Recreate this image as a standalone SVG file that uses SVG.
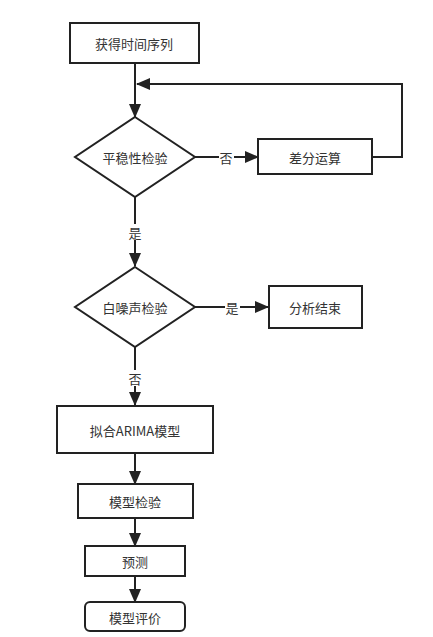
<svg xmlns="http://www.w3.org/2000/svg" width="433" height="637" viewBox="0 0 433 637">
<style>
.n{fill:#fff;stroke:#222;stroke-width:2}
.t{font-family:"Noto Sans CJK SC","Liberation Sans",sans-serif;font-size:13px;fill:#333;text-anchor:middle;dominant-baseline:central}
.c{fill:none;stroke:#222;stroke-width:2}
.lb{fill:#fff}
</style>
<defs>
<marker id="a" markerUnits="userSpaceOnUse" markerWidth="14" markerHeight="12" refX="13" refY="6" orient="auto">
<path d="M0,0 L14,6 L0,12 Z" fill="#222"/>
</marker>
</defs>
<rect width="433" height="637" fill="#fff"/>
<g id="connectors">
<path class="c" d="M135,63 V117" marker-end="url(#a)"/>
<path class="c" d="M372,157 H402 V84 H137" marker-end="url(#a)"/>
<path class="c" d="M195,157 H258" marker-end="url(#a)"/>
<path class="c" d="M135,197 V266" marker-end="url(#a)"/>
<path class="c" d="M195,307 H268" marker-end="url(#a)"/>
<path class="c" d="M135,347 V405" marker-end="url(#a)"/>
<path class="c" d="M135,453 V484" marker-end="url(#a)"/>
<path class="c" d="M135,518 V546" marker-end="url(#a)"/>
<path class="c" d="M135,576 V602" marker-end="url(#a)"/>
<rect class="lb" x="219" y="149" width="15" height="16"/>
<text class="t" x="226" y="157">否</text>
<rect class="lb" x="128" y="224" width="15" height="16"/>
<text class="t" x="135" y="232">是</text>
<rect class="lb" x="225" y="299" width="15" height="16"/>
<text class="t" x="232" y="307">是</text>
<rect class="lb" x="128" y="370" width="15" height="16"/>
<text class="t" x="135" y="378">否</text>
</g>
<g id="n1"><rect class="n" x="70" y="23" width="129" height="40"/><text class="t" x="134" y="43">获得时间序列</text></g>
<g id="n2"><path class="n" d="M135,117 L195,157 L135,197 L75,157 Z"/><text class="t" x="135" y="157">平稳性检验</text></g>
<g id="n3"><rect class="n" x="258" y="139" width="114" height="35"/><text class="t" x="315" y="157">差分运算</text></g>
<g id="n4"><path class="n" d="M135,267 L195,307 L135,347 L75,307 Z"/><text class="t" x="135" y="307">白噪声检验</text></g>
<g id="n5"><rect class="n" x="269" y="286" width="93" height="42"/><text class="t" x="315" y="307">分析结束</text></g>
<g id="n6"><rect class="n" x="57" y="406" width="156" height="47"/><text class="t" x="135" y="430">拟合ARIMA模型</text></g>
<g id="n7"><rect class="n" x="78" y="484" width="115" height="34"/><text class="t" x="135" y="501">模型检验</text></g>
<g id="n8"><rect class="n" x="85" y="546" width="100" height="30"/><text class="t" x="135" y="561">预测</text></g>
<g id="n9"><rect class="n" x="85" y="602" width="100" height="29" rx="5"/><text class="t" x="135" y="617">模型评价</text></g>
</svg>
